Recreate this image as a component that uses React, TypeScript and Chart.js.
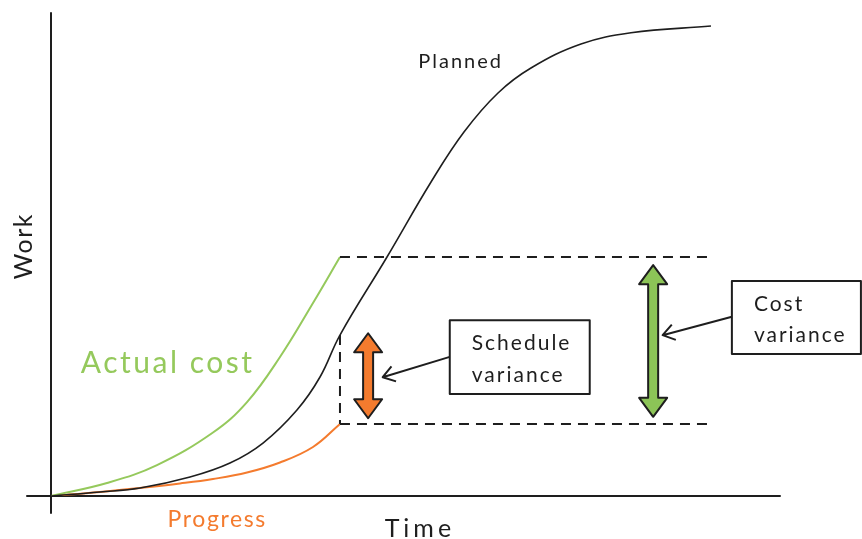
import React, { useEffect, useRef } from "react";
import { Chart, registerables } from "chart.js";

Chart.register(...registerables);

// ---- Data (x = time, y = work, in arbitrary 0..100 units) ----
const plannedX = [0, 6.72, 12.21, 19.07, 24.55, 29.08, 33.74, 36.9, 39.64, 46.09, 52.13, 56.65, 61.32, 65.84, 72.7, 79.56, 90.53];
const plannedY = [0, 0.83, 1.66, 3.93, 6.83, 10.97, 17.81, 24.64, 33.33, 49.48, 65.01, 75.36, 83.44, 88.61, 93.58, 95.9, 97.31];

const actualX = [0, 7.68, 14.54, 22.22, 26.89, 31.41, 35.94, 39.64];
const actualY = [0, 2.69, 6.41, 13.15, 19.45, 28.78, 39.96, 49.48];

const progressX = [0, 6.72, 12.21, 17.7, 22.22, 26.89, 31.41, 35.94, 39.64];
const progressY = [0, 0.83, 1.66, 2.59, 3.52, 4.86, 6.93, 10.14, 14.91];

// status date and variance levels
const statusTime = 39.64;
const plannedAtStatus = 33.33;
const actualAtStatus = 49.48;
const progressAtStatus = 14.91;
const dashEndTime = 90.5;

// variance arrows [x, yTop, yBottom]
const scheduleArrow = [43.5, 33.7, 16.1];
const costArrow = [82.6, 47.8, 16.4];

// callout boxes [x0, yTop, x1, yBottom]
const scheduleBox = [54.7, 36.4, 73.9, 21.1];
const costBox = [93.4, 44.5, 111.1, 29.4];

// callout pointers [fromX, fromY, toX, toY]
const schedulePointer = [54.7, 28.8, 45.5, 24.6];
const costPointer = [93.4, 37.1, 83.9, 33.3];

const scheduleLabel = ["Schedule", "variance"];
const costLabel = ["Cost", "variance"];

const INK = "#1e1e1e";
const GREEN = "#95c95c";
const ORANGE = "#f47b2e";
const FONT = "Lato";

function pts(xs: number[], ys: number[]) {
  return xs.map((x, i) => ({ x, y: ys[i] }));
}

function setSpacing(ctx: any, px: number) {
  if ("letterSpacing" in ctx) ctx.letterSpacing = `${px}px`;
}

const overlayPlugin = {
  id: "overlay",
  beforeDatasetsDraw(chart: any) {
    const ctx: CanvasRenderingContext2D = chart.ctx;
    const xs = chart.scales.x;
    const ys = chart.scales.y;
    const X = (v: number) => xs.getPixelForValue(v);
    const Y = (v: number) => ys.getPixelForValue(v);
    ctx.save();
    ctx.strokeStyle = INK;
    ctx.lineCap = "round";
    ctx.lineWidth = 2;
    ctx.beginPath();
    ctx.moveTo(X(0), chart.chartArea.top);
    ctx.lineTo(X(0), Y(0) + 17);
    ctx.moveTo(X(0) - 24, Y(0));
    ctx.lineTo(chart.chartArea.right, Y(0));
    ctx.stroke();
    ctx.restore();
  },
  afterDatasetsDraw(chart: any) {
    const ctx: CanvasRenderingContext2D = chart.ctx;
    const xs = chart.scales.x;
    const ys = chart.scales.y;
    const X = (v: number) => xs.getPixelForValue(v);
    const Y = (v: number) => ys.getPixelForValue(v);
    ctx.save();
    // dashed guides
    ctx.strokeStyle = INK;
    ctx.lineWidth = 2;
    ctx.setLineDash([10, 7]);
    ctx.beginPath();
    ctx.moveTo(X(statusTime), Y(actualAtStatus));
    ctx.lineTo(X(dashEndTime), Y(actualAtStatus));
    ctx.moveTo(X(statusTime), Y(progressAtStatus));
    ctx.lineTo(X(dashEndTime), Y(progressAtStatus));
    ctx.moveTo(X(statusTime), Y(plannedAtStatus));
    ctx.lineTo(X(statusTime), Y(progressAtStatus));
    ctx.stroke();
    ctx.setLineDash([]);

    // double arrows
    const dbl = (a: number[], fill: string) => {
      const x = X(a[0]);
      const t = Y(a[1]);
      const b = Y(a[2]);
      const hw = 14, hh = 19, sw = 5;
      ctx.beginPath();
      ctx.moveTo(x, t);
      ctx.lineTo(x + hw, t + hh);
      ctx.lineTo(x + sw, t + hh);
      ctx.lineTo(x + sw, b - hh);
      ctx.lineTo(x + hw, b - hh);
      ctx.lineTo(x, b);
      ctx.lineTo(x - hw, b - hh);
      ctx.lineTo(x - sw, b - hh);
      ctx.lineTo(x - sw, t + hh);
      ctx.lineTo(x - hw, t + hh);
      ctx.closePath();
      ctx.fillStyle = fill;
      ctx.fill();
      ctx.lineJoin = "round";
      ctx.lineWidth = 2;
      ctx.strokeStyle = INK;
      ctx.stroke();
    };
    dbl(scheduleArrow, ORANGE);
    dbl(costArrow, "#8cc457");

    // boxes
    const box = (bx: number[], lines: string[]) => {
      const x0 = X(bx[0]), y0 = Y(bx[1]), x1 = X(bx[2]), y1 = Y(bx[3]);
      ctx.fillStyle = "#ffffff";
      ctx.fillRect(x0, y0, x1 - x0, y1 - y0);
      ctx.lineWidth = 2;
      ctx.strokeStyle = INK;
      ctx.strokeRect(x0, y0, x1 - x0, y1 - y0);
      ctx.fillStyle = INK;
      ctx.font = `400 21px ${FONT}`;
      setSpacing(ctx, 2);
      ctx.textBaseline = "alphabetic";
      ctx.textAlign = "left";
      const h = y1 - y0;
      ctx.fillText(lines[0], x0 + 22, y0 + h * 0.41);
      ctx.fillText(lines[1], x0 + 22, y0 + h * 0.84);
      setSpacing(ctx, 0);
    };
    box(scheduleBox, scheduleLabel);
    box(costBox, costLabel);

    // pointers
    const pointer = (p: number[]) => {
      const fx = X(p[0]), fy = Y(p[1]), tx = X(p[2]), ty = Y(p[3]);
      ctx.lineWidth = 2;
      ctx.strokeStyle = INK;
      ctx.beginPath();
      ctx.moveTo(fx, fy);
      ctx.lineTo(tx, ty);
      const ang = Math.atan2(ty - fy, tx - fx);
      const L = 14, spread = 0.6;
      ctx.moveTo(tx - L * Math.cos(ang - spread), ty - L * Math.sin(ang - spread));
      ctx.lineTo(tx, ty);
      ctx.lineTo(tx - L * Math.cos(ang + spread), ty - L * Math.sin(ang + spread));
      ctx.stroke();
    };
    pointer(schedulePointer);
    pointer(costPointer);

    // labels
    ctx.textBaseline = "alphabetic";
    ctx.textAlign = "center";
    ctx.fillStyle = INK;
    ctx.font = `400 20px ${FONT}`;
    setSpacing(ctx, 2);
    ctx.fillText("Planned", X(56.2), Y(88.6));
    ctx.fillStyle = GREEN;
    ctx.font = `400 30px ${FONT}`;
    setSpacing(ctx, 2.5);
    ctx.fillText("Actual cost", X(16.0), Y(25.5));
    ctx.fillStyle = ORANGE;
    ctx.font = `400 23px ${FONT}`;
    setSpacing(ctx, 1.6);
    ctx.fillText("Progress", X(22.8), Y(-6.4));
    ctx.fillStyle = INK;
    ctx.font = `400 25px ${FONT}`;
    setSpacing(ctx, 4);
    ctx.fillText("Time", X(50.6), Y(-8.5));
    ctx.save();
    ctx.translate(32, Y(51.7));
    ctx.rotate(-Math.PI / 2);
    ctx.font = `400 25px ${FONT}`;
    setSpacing(ctx, 1.5);
    ctx.fillText("Work", 0, 0);
    ctx.restore();
    ctx.restore();
  },
};

export default function App() {
  const ref = useRef<HTMLCanvasElement | null>(null);
  useEffect(() => {
    document.body.style.margin = "0";
    const canvas = ref.current;
    if (!canvas) return;
    const line = (label: string, xs: number[], ys: number[], color: string, w: number) => ({
      label,
      data: pts(xs, ys),
      showLine: true,
      borderColor: color,
      borderWidth: w,
      pointRadius: 0,
      tension: 0.4,
    });
    const chart = new Chart(canvas, {
      type: "scatter",
      data: {
        datasets: [
          line("Planned", plannedX, plannedY, INK, 1.6),
          line("Actual cost", actualX, actualY, GREEN, 2),
          line("Progress", progressX, progressY, ORANGE, 2),
        ],
      },
      options: {
        animation: false,
        responsive: false,
        events: [],
        layout: { padding: { left: 51, right: 82, top: 13, bottom: 43 } },
        scales: {
          x: { type: "linear", min: 0, max: 100, display: false },
          y: { type: "linear", min: 0, max: 100, display: false },
        },
        plugins: { legend: { display: false }, tooltip: { enabled: false } },
      } as any,
      plugins: [overlayPlugin],
    });
    return () => chart.destroy();
  }, []);
  return (
    <div style={{ width: 862, height: 539, background: "#ffffff" }}>
      <canvas ref={ref} width={862} height={539} style={{ display: "block" }} />
    </div>
  );
}
